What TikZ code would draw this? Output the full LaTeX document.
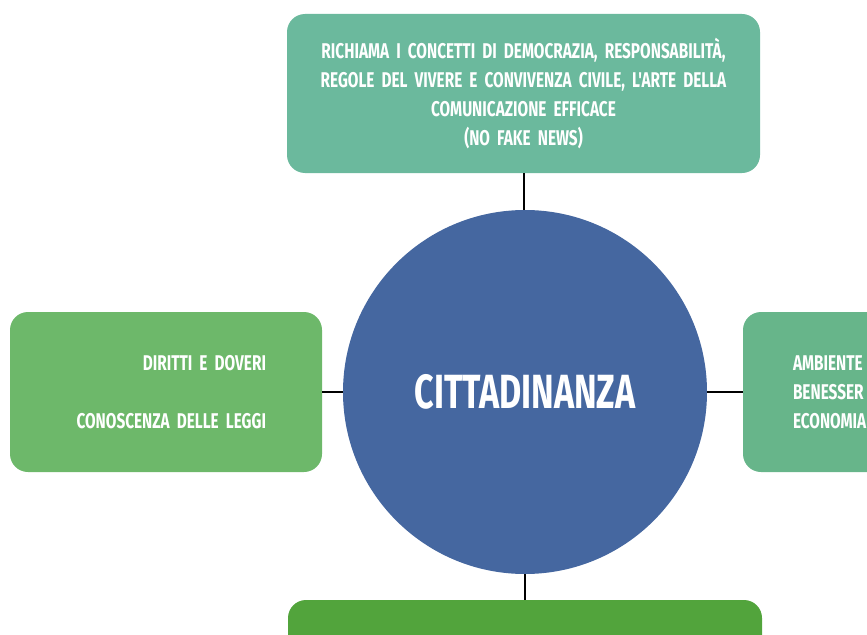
\documentclass[tikz,border=0pt]{standalone}
\usepackage{fontspec}
\usepackage{xcolor}
\usepackage{tikz}
\usetikzlibrary{
    positioning,
    calc
}
\newfontfamily\titleFont{Fira Sans}[FakeStretch=0.71]
\newfontfamily\boxFont{Fira Sans}[FakeStretch=0.72, WordSpace=0.7]
\definecolor{mapBlue}{RGB}{69, 103, 160}
\definecolor{mapTeal}{RGB}{107, 185, 157}
\definecolor{mapGreen}{RGB}{109, 184, 106}
\definecolor{mapMint}{RGB}{103, 181, 138}
\definecolor{mapLeaf}{RGB}{82, 164, 60}

\begin{document}
\begin{tikzpicture}[x=0.75pt, y=-0.75pt,
        topic/.style={rounded corners=13.5pt, text=white, inner ysep=0pt,
            font=\boxFont\bfseries\fontsize{16}{21.75}\selectfont},
        link/.style={line width=1.5pt, black}]
            \useasboundingbox (0,0) rectangle (867,635);

            % centre
            \node[circle, fill=mapBlue, minimum size=273pt, text=white,
                font=\titleFont\bfseries\fontsize{36}{40}\selectfont] (C) at (525,392) {CITTADINANZA};

            % boxes round the centre
            \node[topic, fill=mapTeal, minimum width=354.75pt, minimum height=119.25pt,
                text width=330pt, align=center] (T) at (523.5,93.5)
                {RICHIAMA I CONCETTI DI DEMOCRAZIA, RESPONSABILIT\`A,\\
                 REGOLE DEL VIVERE E CONVIVENZA CIVILE, L'ARTE DELLA\\
                 COMUNICAZIONE EFFICACE\\
                 (NO FAKE NEWS)};
            \node[topic, fill=mapGreen, minimum width=234pt, minimum height=120pt,
                inner xsep=42pt, text width=150pt, align=right] (L) at (166,392)
                {DIRITTI E DOVERI\\[21.75pt]CONOSCENZA DELLE LEGGI};
            \node[topic, fill=mapMint, minimum width=234pt, minimum height=120pt,
                inner xsep=37.5pt, text width=159pt, align=left] (R) at (899,392)
                {AMBIENTE\\BENESSER\\ECONOMIA};
            \node[topic, fill=mapLeaf, minimum width=355.5pt, minimum height=120pt] (B) at (525,680) {};

            % links
            \draw[link] (T.south) -- (T.south |- C.north);
            \draw[link] (L.east) -- (C.west);
            \draw[link] (C.east) -- (R.west);
            \draw[link] (B.north -| C.south) -- (C.south);
        \end{tikzpicture}
\end{document}
